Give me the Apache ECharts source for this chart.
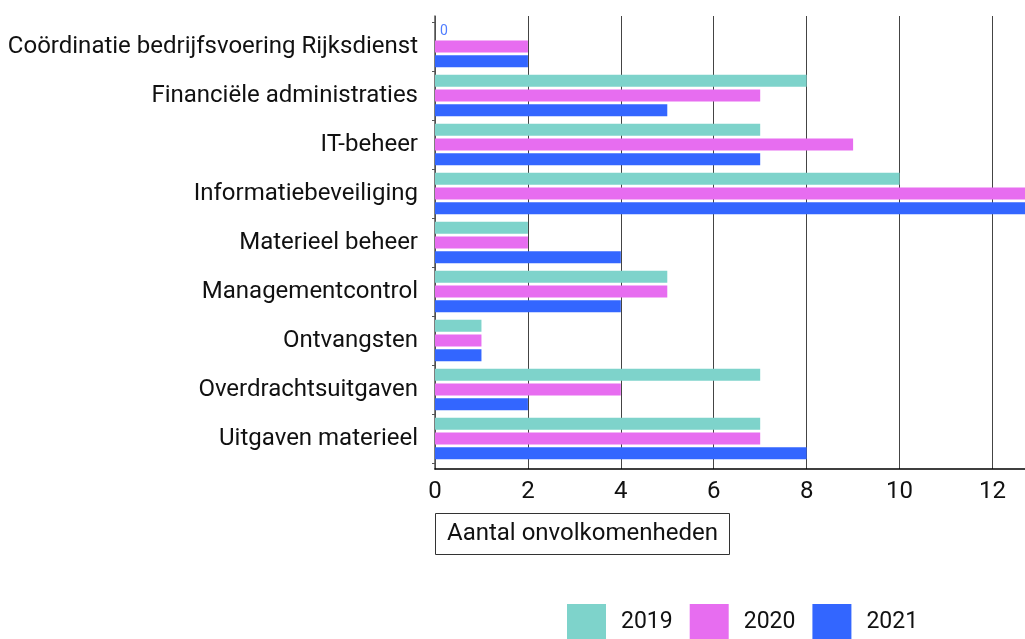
<!DOCTYPE html>
<html>
<head>
<meta charset="utf-8">
<script src="https://cdn.jsdelivr.net/npm/echarts@6/dist/echarts.min.js"></script>
<style>
  html, body { margin: 0; padding: 0; background: #fff; }
  #chart { width: 1025px; height: 639px; }
</style>
</head>
<body>
<div id="chart"></div>
<script>
// Onvolkomenheden per onderwerp, per jaar
const categories = [
  'Coördinatie bedrijfsvoering Rijksdienst',
  'Financiële administraties',
  'IT-beheer',
  'Informatiebeveiliging',
  'Materieel beheer',
  'Managementcontrol',
  'Ontvangsten',
  'Overdrachtsuitgaven',
  'Uitgaven materieel'
];
const years = ['2019', '2020', '2021'];
const values2019 = [0, 8, 7, 10, 2, 5, 1, 7, 7];
const values2020 = [2, 7, 9, 13, 2, 5, 1, 4, 7];
const values2021 = [2, 5, 7, 13, 4, 4, 1, 2, 8];
const xTicks = [0, 2, 4, 6, 8, 10, 12];

const colors = ['#7ED3CB', '#E76DF0', '#3366FF'];
const FONT = 'Roboto, "Noto Sans", sans-serif';
const X_MAX = 12.7;

const chart = echarts.init(document.getElementById('chart'), null, { renderer: 'canvas' });

function makeSeries(name, data, idx) {
  return {
    name: name,
    type: 'bar',
    xAxisIndex: 1,
    yAxisIndex: 1,
    data: data,
    barWidth: 12,
    barGap: '22%',
    itemStyle: { color: colors[idx] },
    label: {
      show: true,
      position: 'right',
      distance: 5,
      color: '#4F7DFF',
      fontSize: 14,
      fontFamily: FONT,
      formatter: p => (p.value === 0 ? '0' : '')
    },
    emphasis: { disabled: true }
  };
}

const option = {
  animation: false,
  backgroundColor: '#fff',
  color: colors,
  textStyle: { fontFamily: FONT },
  title: {
    text: 'Aantal onvolkomenheden',
    left: 435,
    top: 513,
    padding: [9, 12],
    borderColor: '#333',
    borderWidth: 1,
    textStyle: { fontSize: 24, fontWeight: 'normal', color: '#111', fontFamily: FONT }
  },
  legend: {
    data: years,
    left: 567,
    top: 604,
    padding: 0,
    icon: 'rect',
    itemWidth: 39,
    itemHeight: 36,
    itemGap: 17,
    textStyle: { fontSize: 23, color: '#111', fontFamily: FONT, padding: [0, 0, 0, 10] },
    selectedMode: false
  },
  grid: [
    // frame: axis lines and vertical grid lines
    { left: 435, right: 0, top: 16, bottom: 170, containLabel: false },
    // bars, slightly inset from the frame
    { left: 435, right: 0, top: 22, bottom: 176, containLabel: false }
  ],
  xAxis: [
    {
      type: 'value',
      gridIndex: 0,
      min: xTicks[0],
      max: X_MAX,
      interval: xTicks[1] - xTicks[0],
      axisLine: { show: true, lineStyle: { color: '#000', width: 1.5 } },
      axisTick: { show: false },
      splitLine: { show: true, lineStyle: { color: '#444', width: 1 } },
      axisLabel: {
        fontSize: 24, color: '#111', margin: 11, fontFamily: FONT,
        showMaxLabel: false
      }
    },
    {
      type: 'value',
      gridIndex: 1,
      min: xTicks[0],
      max: X_MAX,
      show: false
    }
  ],
  yAxis: [
    {
      type: 'category',
      gridIndex: 0,
      data: categories,
      inverse: true,
      axisLine: { show: true, lineStyle: { color: '#555', width: 1.5 } },
      axisTick: { show: false },
      axisLabel: { show: false },
      splitLine: { show: false }
    },
    {
      type: 'category',
      gridIndex: 1,
      data: categories,
      inverse: true,
      axisLine: { show: false },
      axisTick: { show: true, length: 3, lineStyle: { color: '#555' } },
      axisLabel: { fontSize: 24, color: '#111', margin: 17, fontFamily: FONT },
      splitLine: { show: false }
    }
  ],
  series: [
    makeSeries(years[0], values2019, 0),
    makeSeries(years[1], values2020, 1),
    makeSeries(years[2], values2021, 2)
  ]
};

chart.setOption(option);
</script>
</body>
</html>
